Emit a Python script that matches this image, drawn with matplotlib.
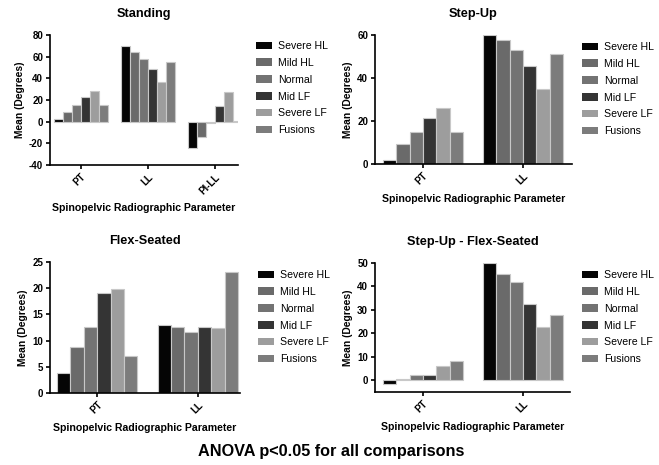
import matplotlib.pyplot as plt
import numpy as np

plt.rcParams['font.family'] = ['Liberation Sans', 'DejaVu Sans']
plt.rcParams['axes.unicode_minus'] = False

groups = ['Severe HL', 'Mild HL', 'Normal', 'Mid LF', 'Severe LF', 'Fusions']
colors = ['#050505', '#6a6a6a', '#737373', '#343434', '#9d9d9d', '#7c7c7c']

# Standing
standing_cats = ['PT', 'LL', 'PI-LL']
standing_vals = [[2.3, 70, -24],
                 [8.6, 64.6, -14.3],
                 [15, 57.5, -1],
                 [23, 49, 14.3],
                 [28.5, 37, 27],
                 [15, 54.7, 1]]

# Step-Up
stepup_cats = ['PT', 'LL']
stepup_vals = [[2, 60],
               [9.2, 57.6],
               [15, 53.2],
               [21.3, 45.4],
               [25.9, 35],
               [14.8, 51]]

# Flex-Seated
flex_cats = ['PT', 'LL']
flex_vals = [[3.8, 12.9],
             [8.7, 12.6],
             [12.6, 11.6],
             [19.1, 12.6],
             [19.9, 12.5],
             [7, 23]]

# Step-Up - Flex-Seated
diff_cats = ['PT', 'LL']
diff_vals = [[-1.5, 50],
             [0.6, 45.3],
             [2.3, 41.7],
             [2.2, 32.7],
             [6, 22.6],
             [8.1, 28]]

fig = plt.figure(figsize=(6.59, 4.65), dpi=100)
W, H = 659, 465


def panel(box, title, cats, vals, ylim, yticks, xlim, legpos):
    x0, y0, x1, y1 = box
    ax = fig.add_axes([x0 / W, 1 - y1 / H, (x1 - x0) / W, (y1 - y0) / H])
    x = np.arange(len(cats))
    bw = 0.8 / len(groups)
    for i, g in enumerate(groups):
        ax.bar(x - 0.4 + bw * (i + 0.5), vals[i], bw, color=colors[i],
               edgecolor='#c8c8c8', linewidth=0.8, label=g)
    ax.set_xlim(*xlim)
    ax.set_ylim(*ylim)
    ax.set_yticks(yticks)
    ax.set_xticks(x)
    ax.set_xticklabels(cats, rotation=45, ha='right', rotation_mode='anchor',
                       fontsize=7, fontweight='bold')
    for t in ax.get_yticklabels():
        t.set_fontsize(7)
        t.set_fontweight('bold')
    ax.spines['top'].set_visible(False)
    ax.spines['right'].set_visible(False)
    ax.spines['left'].set_linewidth(1.2)
    ax.spines['bottom'].set_linewidth(1.2)
    ax.tick_params(axis='both', width=1.2, length=3, pad=2)
    ax.set_title(title, fontsize=9.2, fontweight='bold', pad=13)
    ax.set_ylabel('Mean (Degrees)', fontsize=7.4, fontweight='bold', labelpad=3)
    ax.set_xlabel('Spinopelvic Radiographic Parameter', fontsize=7.6,
                  fontweight='bold', labelpad=5)
    leg = ax.legend(loc='upper left', bbox_to_anchor=(legpos[0] / W, 1 - legpos[1] / H),
                    bbox_transform=fig.transFigure, frameon=False, fontsize=7.6,
                    handlelength=1.45, handleheight=0.75, labelspacing=0.64,
                    handletextpad=0.65, borderpad=0)
    for h in leg.legend_handles:
        h.set_edgecolor('none')
    return ax


panel((50, 35, 238, 165), 'Standing', standing_cats, standing_vals,
      (-40, 80), [-40, -20, 0, 20, 40, 60, 80], (-0.46, 2.34), (251, 36))
panel((375, 35, 572, 164), 'Step-Up', stepup_cats, stepup_vals,
      (0, 60), [0, 20, 40, 60], (-0.48, 1.49), (577, 37))
panel((50, 262, 240, 393), 'Flex-Seated', flex_cats, flex_vals,
      (0, 25), [0, 5, 10, 15, 20, 25], (-0.47, 1.42), (253, 265))
panel((375, 263, 570, 392), 'Step-Up - Flex-Seated', diff_cats, diff_vals,
      (-5, 50), [0, 10, 20, 30, 40, 50], (-0.48, 1.47), (577, 265))

fig.text(331 / W, 1 - 451 / H, 'ANOVA p<0.05 for all comparisons',
         ha='center', va='center', fontsize=11.7, fontweight='bold')

fig.savefig('out.png', dpi=100)
